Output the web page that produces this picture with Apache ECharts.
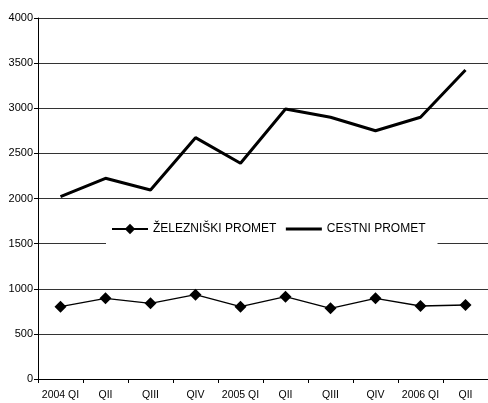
<!DOCTYPE html>
<html>
<head>
<meta charset="utf-8">
<script src="https://cdn.jsdelivr.net/npm/echarts@6/dist/echarts.min.js"></script>
<style>
  html, body { margin: 0; padding: 0; background: #fff; }
  #chart { width: 488px; height: 403px; }
</style>
</head>
<body>
<div id="chart"></div>
<script>
// kvartali
const categories = ['2004 QI', 'QII', 'QIII', 'QIV', '2005 QI', 'QII', 'QIII', 'QIV', '2006 QI', 'QII']
// železniški promet
const railData = [801, 894, 839, 934, 801, 912, 783, 894, 809, 820]
// cestni promet
const roadData = [2020, 2224, 2094, 2674, 2390, 2992, 2900, 2751, 2900, 3424]
const yTicks = { min: 0, max: 4000, interval: 500 }

const chart = echarts.init(document.getElementById('chart'))
const font = 'Liberation Sans, Arial, sans-serif'

chart.setOption({
  animation: false,
  grid: { left: 38, right: 0, top: 18, bottom: 24 },
  legend: {
    left: 106,
    top: 216,
    padding: [7, 12, 15, 5],
    backgroundColor: '#fff',
    itemWidth: 36,
    itemHeight: 13,
    itemGap: 8,
    textStyle: { fontFamily: font, fontSize: 12, color: '#000' },
    data: [
      { name: 'ŽELEZNIŠKI PROMET' },
      { name: 'CESTNI PROMET', itemStyle: { opacity: 0 }, lineStyle: { width: 3, color: '#000' } }
    ]
  },
  xAxis: {
    type: 'category',
    data: categories,
    boundaryGap: true,
    axisLine: { lineStyle: { color: '#000', width: 1 } },
    axisTick: { show: true, length: 4, lineStyle: { color: '#000' } },
    axisLabel: { fontFamily: font, fontSize: 10.5, color: '#000', margin: 11, interval: 0 }
  },
  yAxis: {
    type: 'value',
    min: yTicks.min,
    max: yTicks.max,
    interval: yTicks.interval,
    axisLine: { show: true, lineStyle: { color: '#000', width: 1 } },
    axisTick: { show: true, length: 4, lineStyle: { color: '#000' } },
    axisLabel: {
      fontFamily: font, fontSize: 11, color: '#000', margin: 5,
      formatter: v => String(v)
    },
    splitLine: { lineStyle: { color: '#333', width: 1 } }
  },
  series: [
    {
      name: 'ŽELEZNIŠKI PROMET',
      type: 'line',
      data: railData,
      symbol: 'diamond',
      symbolSize: 12,
      itemStyle: { color: '#000' },
      lineStyle: { color: '#000', width: 1.3 }
    },
    {
      name: 'CESTNI PROMET',
      type: 'line',
      data: roadData,
      symbol: 'none',
      itemStyle: { color: '#000' },
      lineStyle: { color: '#000', width: 3 }
    }
  ]
})
</script>
</body>
</html>
